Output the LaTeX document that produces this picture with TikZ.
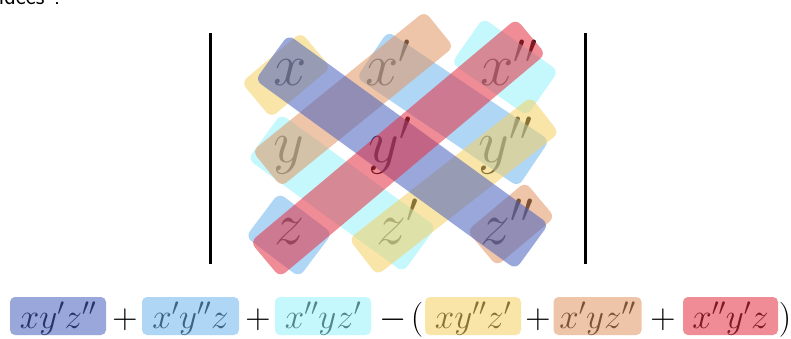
\RequirePackage{fix-cm}
\documentclass[tikz,border=0pt]{standalone}
\definecolor{cA}{RGB}{70,95,190}
\definecolor{cB}{RGB}{110,182,237}
\definecolor{cC}{RGB}{150,244,250}
\definecolor{cD}{RGB}{246,208,100}
\definecolor{cE}{RGB}{226,150,100}
\definecolor{cF}{RGB}{228,46,64}
\begin{document}
\begin{tikzpicture}[x=1pt,y=-1pt,
  band/.style={rectangle, draw=none, inner sep=0pt, rounded corners=7pt, fill opacity=0.55},
  ent/.style={inner sep=0pt, anchor=base west, font=\fontsize{60}{60}\selectfont},
  term/.style={inner sep=0pt, anchor=base, font=\fontsize{35}{38}\selectfont},
  tbox/.style={rectangle, draw=none, inner sep=0pt, rounded corners=5pt, fill opacity=0.55, minimum height=38pt},
  bar/.style={line width=3pt}]
\clip (0,0) rectangle (791,338);
\fill[white] (0,0) rectangle (791,338);

% cut-off heading
\node[anchor=base east, inner sep=0pt, font=\sffamily\fontsize{24}{24}\selectfont] (head) at (63,4) {idées ?};

% determinant bars
\coordinate (l1) at (210,33); \coordinate (l2) at (210,264);
\coordinate (r1) at (585,33); \coordinate (r2) at (585,264);
\draw[bar] (l1) -- (l2);
\draw[bar] (r1) -- (r2);

% entries
\node[ent] (a11) at (273,85) {$x$};
\node[ent] (a12) at (365,85) {$x'$};
\node[ent] (a13) at (480,85) {$x''$};
\node[ent] (a21) at (273,162) {$y$};
\node[ent] (a22) at (368,162) {$y'$};
\node[ent] (a23) at (478,162) {$y''$};
\node[ent] (a31) at (274,244) {$z$};
\node[ent] (a32) at (376,244) {$z'$};
\node[ent] (a33) at (480,244) {$z''$};

% bands
\node[band, fill=cC, minimum width=92pt, minimum height=55pt, rotate=-35] (c1) at (505,67) {};
\node[band, fill=cC, minimum width=192pt, minimum height=56pt, rotate=-36] (c2) at (342,193) {};
\node[band, fill=cB, minimum width=195pt, minimum height=56pt, rotate=-34] (lb1) at (453,109) {};
\node[band, fill=cB, minimum width=67pt, minimum height=55pt, rotate=-37] (lb2) at (289,235) {};
\node[band, fill=cD, minimum width=78pt, minimum height=46pt, rotate=40] (y1) at (286,75) {};
\node[band, fill=cD, minimum width=231pt, minimum height=46pt, rotate=38] (y2) at (454,186) {};
\node[band, fill=cE, minimum width=222pt, minimum height=46pt, rotate=39] (s1) at (353,99) {};
\node[band, fill=cE, minimum width=76pt, minimum height=46pt, rotate=40] (s2) at (511,224) {};
\node[band, fill=cA, minimum width=322pt, minimum height=56pt, rotate=-36] (bl) at (402,152) {};
\node[band, fill=cF, minimum width=347pt, minimum height=46pt, rotate=40] (rd) at (398,148) {};

% expansion
\node[term] (t1) at (58,328) {$xy'z''$};
\node[term] (p1) at (125,328) {$+$};
\node[term] (t2) at (190.5,328) {$x'y''z$};
\node[term] (p2) at (258,328) {$+$};
\node[term] (t3) at (323,328) {$x''yz'$};
\node[term] (m1) at (393,328) {$-$};
\node[term] (o1) at (417,328) {$($};
\node[term] (t4) at (473,328) {$xy''z'$};
\node[term] (p3) at (538,328) {$+$};
\node[term] (t5) at (597.5,328) {$x'yz''$};
\node[term] (p4) at (663,328) {$+$};
\node[term] (t6) at (730.5,328) {$x''y'z$};
\node[term] (o2) at (785,328) {$)$};

\node[tbox, fill=cA, minimum width=96pt] (b1) at (58,316) {};
\node[tbox, fill=cB, minimum width=97pt] (b2) at (190.5,316) {};
\node[tbox, fill=cC, minimum width=96pt] (b3) at (323,316) {};
\node[tbox, fill=cD, minimum width=96pt] (b4) at (473,316) {};
\node[tbox, fill=cE, minimum width=88pt] (b5) at (597.5,316) {};
\node[tbox, fill=cF, minimum width=95pt] (b6) at (730.5,316) {};
\end{tikzpicture}
\end{document}
